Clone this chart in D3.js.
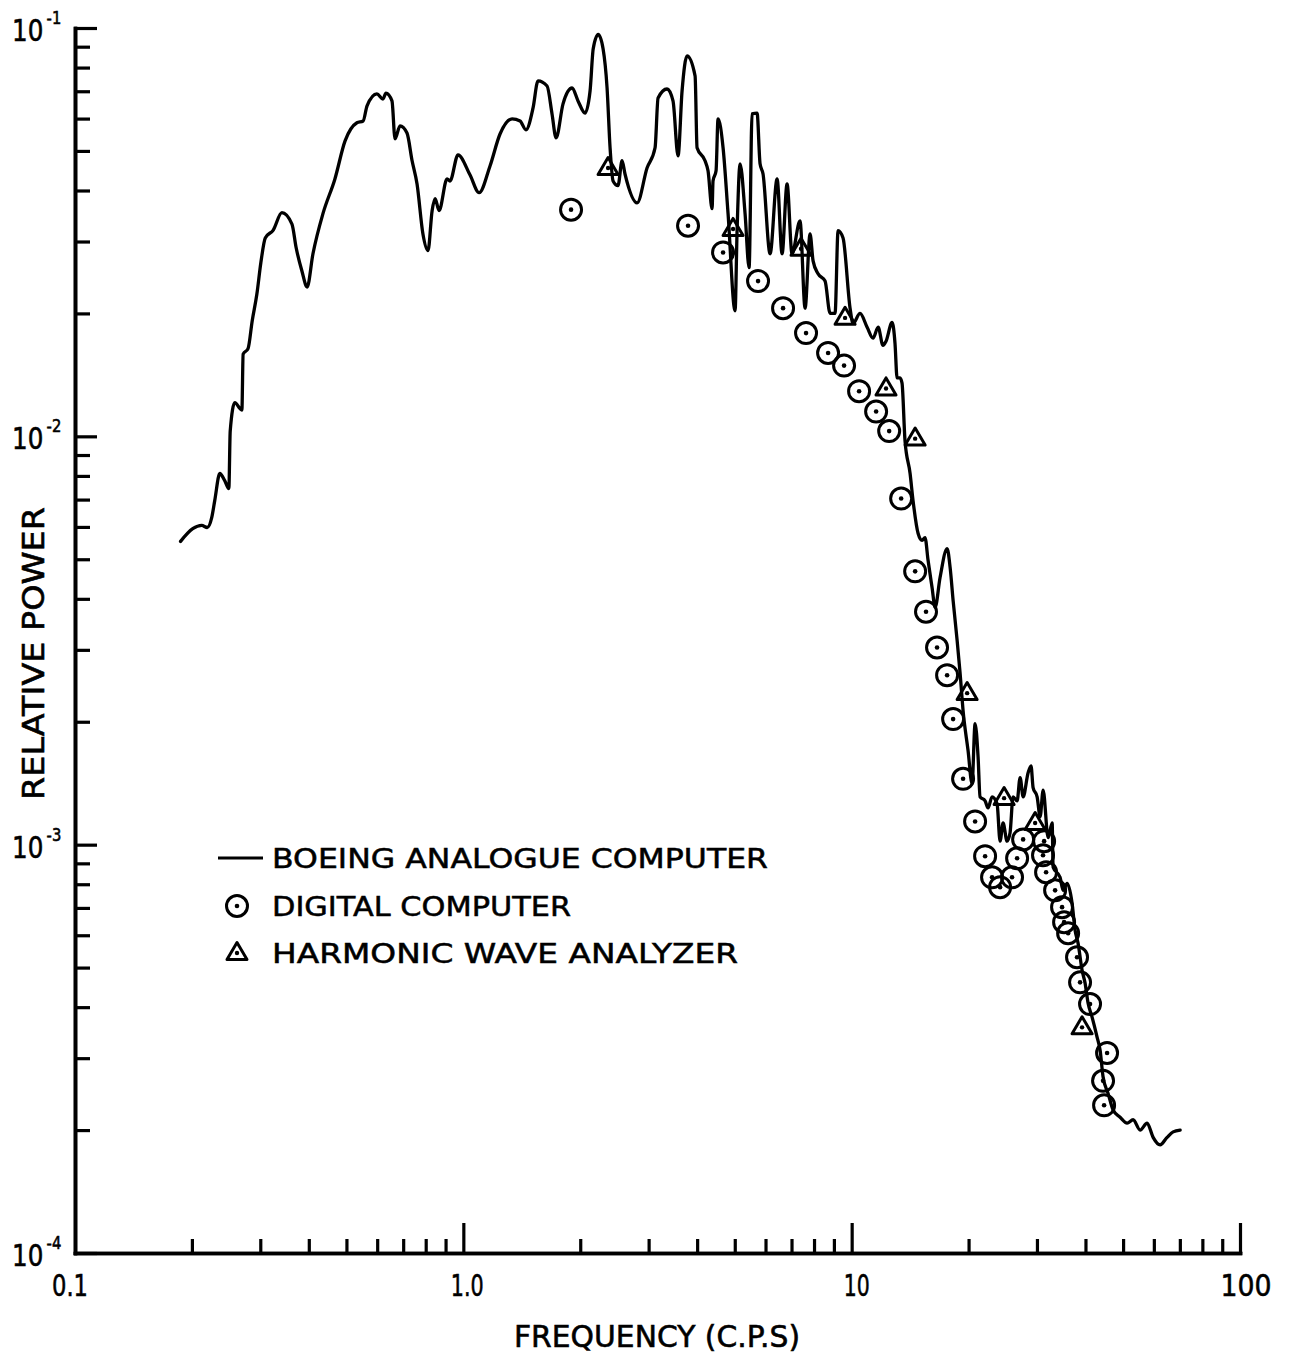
<!DOCTYPE html>
<html><head><meta charset="utf-8">
<script src="https://cdn.jsdelivr.net/npm/d3@7/dist/d3.min.js"></script>
<style>body{margin:0;background:#fff} svg{display:block}</style>
</head><body><svg id="c" width="1289" height="1356"></svg>
<script>
// ---------- DATA ----------
const boeingFreq = [0.187,0.201,0.212,0.219,0.225,0.229,0.236,0.243,0.249,0.251,0.258,0.266,0.269,0.271,0.279,0.286,0.294,0.301,0.309,0.324,
0.341,0.362,0.371,0.384,0.396,0.410,0.435,0.467,0.496,0.532,0.552,0.565,0.599,0.621,0.632,0.655,0.667,0.687,0.716,0.738,
0.760,0.787,0.811,0.831,0.846,0.866,0.908,0.924,0.969,1.040,1.098,1.172,1.243,1.335,1.400,1.450,1.512,1.557,1.643,1.692,
1.733,1.806,1.905,1.974,2.058,2.120,2.160,2.225,2.290,2.345,2.387,2.430,2.502,2.563,2.608,2.802,2.972,3.117,3.173,3.346,3.467,
3.572,3.658,3.768,3.952,3.998,4.192,4.267,4.371,4.395,4.475,4.528,4.665,4.805,5.009,5.069,5.160,5.315,5.443,5.540,5.707,
5.809,5.913,6.165,6.426,6.619,6.818,7.022,7.362,7.586,7.814,7.955,8.194,8.541,8.799,9.062,9.226,9.502,9.906,10.08,10.51,
10.96,11.35,11.70,12.04,12.26,12.71,12.93,13.09,13.32,13.48,13.72,14.14,14.39,14.83,15.18,15.45,15.73,16.11,16.40,16.89,
17.61,17.93,18.25,18.69,19.02,19.36,19.94,20.42,20.79,21.16,21.41,22.06,22.45,22.99,23.68,24.11,24.54,25.13,25.58,26.04,
26.67,27.15,27.64,28.47,28.97,29.32,30.03,30.57,31.12,32.06,32.83,33.02,34.41,35.03,35.87,36.95,37.61,38.28,39.20,39.91,
40.63,41.60,42.85,43.62,44.40,45.74,47.12,49.12,51.20,53.06,55.31,57.65,59.74,62.27,64.91,67.27,70.12];
const boeingPower = [0.00553,0.00594,0.00605,0.00598,0.00633,0.00696,0.00811,0.00779,0.00745,0.0103,0.0121,0.0117,0.0116,0.0159,0.0164,0.0192,0.0223,0.0266,0.0306,0.0320,
0.0353,0.0331,0.0290,0.0254,0.0232,0.0280,0.0351,0.0427,0.0529,0.0586,0.0592,0.0645,0.0690,0.0670,0.0693,0.0663,0.0535,0.0576,0.0553,0.0473,
0.0415,0.0313,0.0285,0.0357,0.0382,0.0357,0.0427,0.0422,0.0489,0.0437,0.0395,0.0460,0.0550,0.0599,0.0592,0.0563,0.0637,0.0742,0.0721,0.0616,
0.0538,0.0652,0.0713,0.0663,0.0619,0.0701,0.0890,0.0965,0.0890,0.0713,0.0509,0.0422,0.0411,0.0473,0.0439,0.0373,0.0454,0.0509,0.0674,0.0709,0.0663,
0.0486,0.0701,0.0854,0.0763,0.0509,0.0473,0.0447,0.0361,0.0422,0.0447,0.0599,0.0509,0.0351,0.0203,0.0319,0.0465,0.0351,0.0259,0.0616,0.0619,
0.0465,0.0439,0.0280,0.0427,0.0280,0.0415,0.0280,0.0337,0.0206,0.0313,0.0269,0.0250,0.0240,0.0200,0.0200,0.0319,0.0306,0.0206,0.0189,0.0200,
0.0185,0.0174,0.0185,0.0167,0.0171,0.0190,0.0169,0.0139,0.0139,0.0135,0.00976,0.00811,0.00696,0.00578,0.00556,0.00565,0.00497,0.00426,0.00381,0.00451,
0.00531,0.00477,0.00396,0.00316,0.00263,0.00213,0.00170,0.00141,0.00198,0.00164,0.00131,0.00128,0.00123,0.00131,0.00126,0.00102,0.00113,0.00102,0.00107,0.00131,
0.00128,0.00146,0.00131,0.00150,0.00156,0.00138,0.00131,0.00117,0.00136,0.00104,0.00113,0.000881,0.000832,0.000773,0.000804,0.000719,0.000617,0.000574,0.000493,0.000458,
0.000409,0.000378,0.000338,0.000314,0.000270,0.000246,0.000224,0.000215,0.000208,0.000212,0.000200,0.000208,0.000192,0.000184,0.000192,0.000198,0.000200];

const digitalFreq = [1.894,3.790,4.665,5.740,6.658,7.630,8.695,9.559,10.45,11.56,12.49,13.41,14.57,15.54,16.59,17.61,18.25,19.36,20.79,22.06,
22.99,24.11,25.88,26.67,27.64,31.30,31.10,31.67,33.41,34.82,35.24,36.09,38.05,38.74,41.10,45.47,44.40,44.67];
const digitalPower = [0.0359,0.0328,0.0282,0.0240,0.0206,0.0179,0.0160,0.0149,0.0129,0.0115,0.0103,0.00704,0.00467,0.00372,0.00304,0.00260,0.00203,0.00145,0.00114,0.000937,
0.000832,0.000787,0.000832,0.000926,0.00103,0.00102,0.000942,0.000856,0.000773,0.000703,0.000646,0.000607,0.000530,0.000460,0.000407,0.000309,0.000264,0.000230];

const harmonicFreq = [2.359,4.950,7.406,9.616,12.26,14.57,19.83,24.69,29.68,39.20];
const harmonicPower = [0.0454,0.0322,0.0288,0.0195,0.0131,0.00987,0.00235,0.00130,0.00113,0.000357];

const xMajorTicks = [1, 10, 100];
const xMinorTicks = [0.2,0.3,0.4,0.5,0.6,0.7,0.8,0.9, 2,3,4,5,6,7,8,9, 20,30,40,50,60,70,80,90];
const xTickValues = [0.1, 1, 10, 100];
const xTickLabels = ["0.1", "1.0", "10", "100"];
const yMajorTicks = [1e-4, 1e-3, 1e-2, 1e-1];
const yMinorTicks = [2e-4,3e-4,4e-4,5e-4,6e-4,7e-4,8e-4,9e-4, 2e-3,3e-3,4e-3,5e-3,6e-3,7e-3,8e-3,9e-3, 2e-2,3e-2,4e-2,5e-2,6e-2,7e-2,8e-2,9e-2];
const yTickExponents = ["-4", "-3", "-2", "-1"];
const xTitle = "FREQUENCY (C.P.S)";
const yTitle = "RELATIVE POWER";
const legendLabels = ["BOEING ANALOGUE COMPUTER", "DIGITAL COMPUTER", "HARMONIC WAVE ANALYZER"];

// ---------- DRAW ----------
const svg = d3.select("#c");
const FONT = "'DejaVu Sans', 'Liberation Sans', sans-serif";
const x = d3.scaleLog().domain([0.1, 100]).range([75, 1240]);
const y = d3.scaleLog().domain([1e-4, 1e-1]).range([1253, 28]);

const axisStroke = 3.6;
// x axis
const gx = svg.append("g").attr("transform", `translate(0,${y(1e-4)})`);
gx.call(d3.axisBottom(x).tickValues(xMinorTicks).tickSize(-14).tickFormat("").tickSizeOuter(0));
gx.append("g").call(d3.axisBottom(x).tickValues(xMajorTicks).tickSize(-30).tickFormat("").tickSizeOuter(0));
// y axis
const gy = svg.append("g").attr("transform", `translate(${x(0.1)},0)`);
gy.call(d3.axisLeft(y).tickValues(yMinorTicks).tickSize(-15).tickFormat("").tickSizeOuter(0));
gy.append("g").call(d3.axisLeft(y).tickValues(yMajorTicks).tickSize(-22).tickFormat("").tickSizeOuter(0));
svg.selectAll(".domain").attr("stroke", "#000").attr("stroke-width", axisStroke).attr("stroke-linecap", "square");
svg.selectAll(".tick line").attr("stroke", "#000").attr("stroke-width", 3.2);

// x tick labels
const xLabW = {"0.1": 36, "1.0": 33, "10": 26, "100": 51};
const xLabC = {"0.1": -5, "1.0": 4, "10": 5, "100": 6};
svg.append("g").selectAll("text").data(xTickValues).join("text")
  .attr("x", (d, i) => x(d) + xLabC[xTickLabels[i]])
  .attr("y", 1296)
  .attr("text-anchor", "middle")
  .attr("font-family", FONT).attr("font-size", 31)
  .attr("textLength", (d, i) => xLabW[xTickLabels[i]]).attr("lengthAdjust", "spacingAndGlyphs")
  .attr("stroke", "#000").attr("stroke-width", 0.6)
  .text((d, i) => xTickLabels[i]);

// y tick labels: one text per label, "10" with a superscript exponent tspan
const gyl = svg.append("g");
yMajorTicks.forEach((v, i) => {
  const yy = y(v);
  const t = gyl.append("text")
    .attr("transform", `translate(12,${yy + 13}) scale(0.82,1)`)
    .attr("font-family", FONT).attr("font-size", 30)
    .attr("stroke", "#000").attr("stroke-width", 0.6);
  t.append("tspan").text("10");
  t.append("tspan").attr("dx", 4).attr("dy", -17).attr("font-size", 18).text(yTickExponents[i]);
});

// axis titles
svg.append("text").attr("x", 514).attr("y", 1347)
  .attr("font-family", FONT).attr("font-size", 30)
  .attr("textLength", 286).attr("lengthAdjust", "spacingAndGlyphs")
  .attr("stroke", "#000").attr("stroke-width", 0.6)
  .text(xTitle);
svg.append("text").attr("transform", "translate(44,800) rotate(-90)")
  .attr("font-family", FONT).attr("font-size", 30)
  .attr("textLength", 293).attr("lengthAdjust", "spacingAndGlyphs")
  .attr("stroke", "#000").attr("stroke-width", 0.6)
  .text(yTitle);

// Boeing line
const boeing = boeingFreq.map((f, i) => [f, boeingPower[i]]);
svg.append("path").datum(boeing)
  .attr("d", d3.line().x(d => x(d[0])).y(d => y(d[1])).curve(d3.curveMonotoneX))
  .attr("fill", "none").attr("stroke", "#000").attr("stroke-width", 3.3)
  .attr("stroke-linejoin", "round").attr("stroke-linecap", "round");

// marker helpers
function circleMarker(g, cx, cy) {
  g.append("circle").attr("cx", cx).attr("cy", cy).attr("r", 10.5)
    .attr("fill", "none").attr("stroke", "#000").attr("stroke-width", 3);
  g.append("circle").attr("cx", cx).attr("cy", cy).attr("r", 2.3).attr("fill", "#000");
}
function triangleMarker(g, cx, cy) {
  const h = 17, w = 20;
  g.append("path")
    .attr("d", `M${cx},${cy - h * 0.62} L${cx + w / 2},${cy + h * 0.38} L${cx - w / 2},${cy + h * 0.38} Z`)
    .attr("fill", "none").attr("stroke", "#000").attr("stroke-width", 3).attr("stroke-linejoin", "round");
  g.append("circle").attr("cx", cx).attr("cy", cy).attr("r", 2.2).attr("fill", "#000");
}

const gd = svg.append("g");
digitalFreq.forEach((f, i) => circleMarker(gd, x(f), y(digitalPower[i])));
const gh = svg.append("g");
harmonicFreq.forEach((f, i) => triangleMarker(gh, x(f), y(harmonicPower[i])));

// legend
const lg = svg.append("g");
lg.append("line").attr("x1", 218).attr("x2", 263).attr("y1", 858).attr("y2", 858)
  .attr("stroke", "#000").attr("stroke-width", 3);
circleMarker(lg, 237, 906);
triangleMarker(lg, 237, 953);
const legY = [868, 916, 963];
const legW = [496, 299, 466];
legendLabels.forEach((t, i) => {
  lg.append("text").attr("x", 272).attr("y", legY[i])
    .attr("font-family", FONT).attr("font-size", 26)
    .attr("textLength", legW[i]).attr("lengthAdjust", "spacingAndGlyphs")
    .attr("stroke", "#000").attr("stroke-width", 0.5)
    .text(t);
});
</script></body></html>
